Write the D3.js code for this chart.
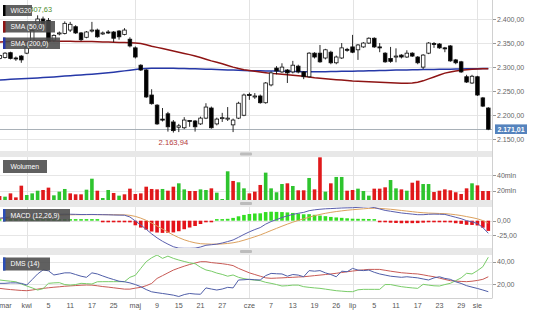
<!DOCTYPE html>
<html>
<head>
<meta charset="utf-8">
<script src="https://cdnjs.cloudflare.com/ajax/libs/d3/7.8.5/d3.min.js"></script>
<style>
    body { margin: 0; background: #fff; }
    text { font-family: "Liberation Sans", Arial, sans-serif; }
</style>
</head>
<body>
<script>
    var width = 536;
    var height = 314;
    var plotW = 492;

    // sesje GPW 25.03.2019 - 05.08.2019 (bez swiat)
    var holidays = ["2019-04-19", "2019-04-22", "2019-05-01", "2019-05-03", "2019-06-20"];
    var tickDates = ["2019-03-26", "2019-04-01", "2019-04-05", "2019-04-11", "2019-04-17", "2019-04-25",
        "2019-05-02", "2019-05-09", "2019-05-15", "2019-05-21", "2019-05-27", "2019-06-03", "2019-06-07",
        "2019-06-13", "2019-06-19", "2019-06-26", "2019-07-01", "2019-07-05", "2019-07-11", "2019-07-17",
        "2019-07-23", "2019-07-29", "2019-08-01"];
    var tickText = ["mar", "kwi", "5", "11", "17", "25", "maj", "9", "15", "21", "27", "cze", "7",
        "13", "19", "26", "lip", "5", "11", "17", "23", "29", "sie"];
    var monthStarts = ["kwi", "maj", "cze", "lip", "sie"];

    var open = [2318, 2320, 2330, 2319, 2323, 2329, 2350, 2380, 2400, 2397,
        2356, 2369, 2370, 2377, 2384, 2371, 2362, 2375, 2377, 2370,
        2373, 2373, 2375, 2368, 2358, 2340, 2304, 2294, 2242, 2221,
        2192, 2203, 2186, 2175, 2174, 2189, 2188, 2182, 2194, 2215,
        2182, 2193, 2193, 2180, 2194, 2200, 2243, 2240, 2240, 2226,
        2263, 2298, 2290, 2294, 2290, 2302, 2290, 2280, 2329, 2329,
        2319, 2331, 2309, 2319, 2337, 2342, 2336, 2342, 2350, 2360,
        2342, 2329, 2318, 2322, 2325, 2321, 2329, 2321, 2300, 2329,
        2349, 2348, 2340, 2344, 2315, 2311, 2280, 2267, 2280, 2236,
        2215];
    var high = [2327, 2331, 2332, 2322, 2325, 2344, 2379, 2407.63, 2405, 2402,
        2368, 2374, 2395, 2394, 2387, 2373, 2375, 2394, 2380, 2374,
        2377, 2375, 2377, 2381, 2362, 2343, 2306, 2296, 2254, 2223,
        2215, 2207, 2190, 2182, 2196, 2190, 2190, 2197, 2225, 2218,
        2195, 2205, 2217, 2193, 2228, 2245, 2247, 2246, 2243, 2269,
        2291, 2302, 2308, 2296, 2313, 2305, 2292, 2331, 2331, 2346,
        2338, 2334, 2324, 2350, 2340, 2367, 2348, 2352, 2362, 2362,
        2350, 2331, 2342, 2339, 2327, 2335, 2331, 2323, 2327, 2352,
        2352, 2350, 2342, 2346, 2317, 2313, 2284, 2284, 2282, 2238,
        2217];
    var low = [2315, 2318, 2316, 2313, 2309, 2327, 2348, 2376, 2388, 2350,
        2352, 2366, 2368, 2373, 2369, 2354, 2360, 2372, 2361, 2367,
        2369, 2352, 2357, 2366, 2341, 2318, 2292, 2236, 2222, 2180,
        2187, 2166, 2163.94, 2165, 2171, 2176, 2166, 2180, 2192, 2172,
        2179, 2186, 2188, 2165, 2192, 2198, 2232, 2234, 2224, 2224,
        2260, 2285, 2288, 2267, 2287, 2287, 2275, 2278, 2318, 2309,
        2316, 2306, 2306, 2317, 2332, 2329, 2315, 2340, 2348, 2340,
        2331, 2309, 2309, 2310, 2318, 2319, 2321, 2306, 2296, 2327,
        2340, 2338, 2331, 2311, 2306, 2288, 2267, 2265, 2240, 2217,
        2169];
    var close = [2324, 2329, 2318, 2317, 2315, 2342, 2376, 2400, 2391, 2353,
        2366, 2371, 2391, 2389, 2371, 2357, 2373, 2377, 2363, 2371,
        2372, 2360, 2363, 2377, 2344, 2321, 2294, 2238, 2224, 2182,
        2190, 2176, 2168, 2178, 2190, 2188, 2176, 2194, 2217, 2174,
        2192, 2195, 2194, 2190, 2225, 2242, 2241, 2240, 2226, 2267,
        2288, 2292, 2300, 2288, 2304, 2290, 2280, 2329, 2321, 2311,
        2336, 2309, 2321, 2340, 2336, 2331, 2346, 2350, 2360, 2342,
        2341, 2311, 2312, 2323, 2321, 2329, 2323, 2309, 2325, 2350,
        2348, 2340, 2339, 2313, 2309, 2290, 2269, 2281, 2242, 2219,
        2171.01];

    var sma50 = [2352, 2352.5, 2353, 2353, 2353, 2353.5, 2354, 2354.5, 2355, 2355,
        2354.5, 2354, 2354, 2354, 2353.5, 2353, 2353, 2353, 2352.5, 2352,
        2352, 2351.5, 2351, 2351, 2350.5, 2350, 2349, 2346.5, 2343.5, 2341,
        2338.5, 2336, 2333.5, 2331, 2328.5, 2326, 2323, 2320, 2316.5, 2313,
        2310, 2307, 2303.5, 2300, 2297, 2294.5, 2293, 2291.5, 2290, 2288.5,
        2287, 2286, 2285, 2284, 2283, 2282, 2281, 2279.5, 2278, 2277,
        2276, 2275, 2274, 2273, 2272, 2271, 2270.5, 2270, 2269.5, 2269,
        2268.5, 2268, 2267.5, 2267, 2266.5, 2266.5, 2267, 2268.5, 2271.5, 2275.5,
        2279.5, 2283.5, 2287.5, 2290, 2292, 2293.5, 2294.5, 2295.5, 2296, 2296.5,
        2296.5];
    var sma200 = [2273.3, 2274, 2274.6, 2275.2, 2275.8, 2276.4, 2277, 2277.6, 2278.2, 2278.9,
        2279.7, 2280.5, 2281.3, 2282.1, 2283, 2283.8, 2284.6, 2285.4, 2286.3, 2287.2,
        2288.3, 2289.5, 2290.8, 2292.2, 2293.6, 2295, 2296.5, 2297.3, 2297.6, 2297.6,
        2297.6, 2297.5, 2297.4, 2297.2, 2297, 2296.8, 2296.5, 2296.2, 2295.8, 2295.4,
        2295, 2294.6, 2294.2, 2293.8, 2293.4, 2293, 2292.7, 2292.4, 2292.2, 2292,
        2292, 2291.8, 2291.5, 2291.2, 2291, 2290.8, 2290.6, 2290.5, 2290.5, 2290.5,
        2290.6, 2290.8, 2291, 2291.2, 2291.3, 2291.5, 2291.7, 2292, 2292.3, 2292.6,
        2292.9, 2293.2, 2293.5, 2293.8, 2294, 2294.2, 2294.4, 2294.6, 2294.8, 2295,
        2295.2, 2295.4, 2295.6, 2295.8, 2296, 2296.2, 2296.4, 2296.6, 2296.8, 2296.9,
        2297.1];

    // wolumen w mln
    var volume = [13.2, 12.4, 16.6, 11.5, 26.4, 14.5, 16.6, 20.0, 20.9, 23.9,
        14.1, 18.8, 22.2, 16.6, 15.4, 15.4, 21.3, 35.3, 20.0, 10.7,
        20.9, 17.1, 13.7, 15.4, 22.6, 15.8, 16.6, 25.1, 22.2, 21.7,
        22.2, 20.0, 25.1, 29.4, 21.7, 19.6, 19.6, 21.7, 20.9, 23.0,
        17.5, 9.4, 44.7, 32.4, 30.7, 23.0, 16.6, 18.8, 27.3, 43.0,
        23.0, 18.0, 28.5, 29.4, 26.0, 20.5, 20.5, 36.2, 21.7, 62.5,
        18.8, 29.4, 37.5, 37.5, 20.0, 20.9, 22.6, 19.6, 13.7, 22.6,
        22.6, 24.3, 33.6, 23.0, 21.7, 20.0, 30.2, 32.8, 28.5, 28.5,
        18.3, 20.0, 21.7, 20.5, 18.0, 15.8, 23.0, 29.4, 26.8, 19.6,
        19.6];
    var volUp = [0, 1, 0, 0, 0, 1, 1, 1, 0, 0,
        1, 1, 1, 0, 0, 0, 1, 1, 0, 1,
        1, 0, 1, 0, 0, 0, 0, 0, 0, 0,
        1, 0, 0, 1, 1, 0, 0, 1, 1, 0,
        1, 1, 1, 0, 1, 1, 0, 0, 0, 1,
        1, 1, 1, 0, 1, 0, 0, 1, 0, 0,
        1, 0, 1, 1, 0, 0, 1, 1, 1, 0,
        0, 0, 1, 1, 0, 1, 0, 0, 1, 1,
        0, 0, 0, 0, 0, 0, 0, 1, 0, 0,
        0];

    var macd = [4.5, 5.5, 6.5, 7.3, 8.0, 8.8, 9.8, 10.6, 11.0, 11.0,
        11.1, 11.2, 11.4, 11.3, 11.1, 10.8, 10.8, 10.9, 10.7, 10.5,
        10.3, 10.0, 9.8, 9.6, 6.5, -0.5, -7.5, -15, -23, -30,
        -36, -41, -45.5, -48, -48.3, -48.3, -48, -46, -43, -42,
        -41, -39, -36.5, -33.7, -29, -24, -19.5, -15.5, -12, -6,
        -1.5, 2, 5.5, 8.5, 11, 13, 14.5, 17.5, 19, 20,
        20.8, 21.2, 21.7, 22.2, 22.5, 22.7, 23.3, 24, 24.5, 23,
        20.5, 18, 16.5, 15, 13.5, 12.5, 11.5, 10.5, 10.5, 11.2,
        11.5, 11.3, 11, 8.5, 6, 3.5, 0, -2, -5, -12,
        -22];
    var signal = [3.5, 3.9, 4.4, 5.0, 5.6, 6.2, 7.0, 7.7, 8.3, 8.9,
        9.3, 9.7, 10.0, 10.3, 10.5, 10.5, 10.6, 10.6, 10.6, 10.6,
        10.6, 10.4, 10.3, 10.2, 9.4, 7.5, 4.5, 0.6, -4.1, -9.3,
        -14.7, -19.9, -25, -29.6, -33.4, -36.4, -38.7, -40.2, -40.7, -41,
        -41, -40.6, -39.8, -38.6, -36.7, -34.1, -31.2, -28.1, -24.9, -21.1,
        -17.2, -13.4, -9.6, -6, -2.6, 0.5, 3.3, 6.1, 8.7, 11,
        12.9, 14.6, 16, 17.2, 18.3, 19.2, 20, 20.8, 21.5, 21.8,
        21.5, 20.8, 20, 19, 17.9, 16.8, 15.8, 14.7, 13.9, 13.3,
        13, 12.6, 12.3, 11.5, 10.4, 9, 7.2, 5.4, 3.3, 0.2,
        -4.2];

    var plusDI = [20.6, 20.6, 21, 21, 20.6, 19.1, 24, 29, 32.6, 31.8,
        28.1, 29, 30, 30, 28.5, 27, 26, 30, 29, 27.2,
        25.5, 24, 22.5, 22, 21, 19.5, 17.6, 15, 13, 12.2,
        11.5, 10.8, 10, 8.8, 10.5, 11.5, 11, 10.8, 16.5, 15.5,
        14.6, 15.5, 17, 16.5, 23.6, 23.8, 24.2, 23.8, 23.6, 27.5,
        29.5, 29.2, 29, 27, 28.5, 28, 26.5, 32, 31.5, 32,
        30, 28.5, 26.5, 31.5, 31, 34, 32.5, 32, 32.5, 30.5,
        29, 28, 27, 26.5, 26, 26.5, 26, 25.5, 24.5, 23.6,
        25.5, 26.5, 25, 24.2, 22, 20.5, 18.5, 17.2, 16, 14.6,
        13.1];
    var minusDI = [23.6, 23, 22.5, 22, 20, 18.2, 16.5, 14.6, 15.8, 20.6,
        21, 21.2, 19.5, 19, 19.5, 20.6, 20.3, 20, 22, 22.1,
        22.1, 22.1, 22.1, 22.1, 26, 27.8, 34, 40, 43.5, 46,
        43, 45, 43, 41.5, 40.2, 39, 38.2, 35, 32.6, 31.5,
        29.8, 28.6, 27, 28.1, 26, 24.8, 24, 23.5, 23, 21.5,
        20.6, 19.5, 18.2, 18.5, 19, 19, 17.6, 17, 16.5, 16.1,
        15.4, 14.7, 14, 13.6, 13.2, 13.1, 14.8, 15.2, 15.2, 15.2,
        15.2, 19.5, 19.5, 18.5, 17.6, 17, 16.5, 16.1, 19.7, 19,
        18.4, 18.2, 19.5, 20.6, 23, 25.5, 29.6, 29, 32, 35.5,
        44];
    var adx = [16.1, 15.5, 15, 14.6, 14.2, 14, 14.6, 15.4, 16.1, 16.6,
        17.1, 17.5, 18, 18.3, 18.6, 18.9, 19.1, 19, 18.4, 17.7,
        17.2, 16.6, 16, 15.4, 15.4, 16.3, 17, 18.5, 20.5, 25,
        27.5, 30, 32.5, 34.3, 36, 37.5, 38.8, 40, 40, 39.2,
        38.7, 38.2, 37.5, 36.5, 34, 32, 30, 28.5, 27, 25.5,
        25.1, 25.3, 25.5, 25.8, 26, 26.3, 26.5, 27, 27.5, 28,
        28.5, 29, 29.6, 30.3, 31, 31.6, 32.2, 32.7, 33.1, 33.1,
        33.1, 32.3, 31.5, 30.8, 30.1, 29.7, 29.3, 29, 28.2, 27.3,
        26.5, 25.3, 24.1, 23, 22.6, 22.3, 22.1, 22.5, 23.2, 24.2,
        26.5];

    var priceTicks = [2150, 2200, 2250, 2300, 2350, 2400];
    var volTicks = [20, 40];
    var macdTicks = [-25, 0];
    var dmsTicks = [20, 40];

    var pl = d3.formatLocale({ decimal: ",", thousands: ".", grouping: [3], currency: ["", ""], minus: "-" });
    var fmt2 = pl.format(",.2f");
    var isoFmt = d3.timeFormat("%Y-%m-%d");

    var days = d3.timeDay.range(new Date(2019, 2, 25), new Date(2019, 7, 6))
        .filter(d => d.getDay() % 6 != 0 && holidays.indexOf(isoFmt(d)) < 0)
        .map(isoFmt);
    var n = days.length;

    var x = d3.scaleLinear().domain([0, n - 1]).range([-0.4, 488.3]);
    var yP = d3.scaleLinear().domain([2150, 2400]).range([139.3, 19]);
    var yV = d3.scaleLinear().domain([20, 40]).range([190.7, 175]);
    var yM = d3.scaleLinear().domain([-25, 0]).range([235, 220.7]);
    var yD = d3.scaleLinear().domain([20, 40]).range([284, 261.7]);

    var panels = [
        { id: "main", top: 0, bottom: 151 },
        { id: "vol", top: 157, bottom: 200 },
        { id: "macd", top: 207, bottom: 248 },
        { id: "dms", top: 255, bottom: 298 }
    ];

    var svg = d3.select("body").append("svg")
        .attr("width", width)
        .attr("height", height);

    svg.append("rect").attr("width", width).attr("height", height).attr("fill", "#fff");

    var defs = svg.append("defs");
    panels.forEach(p => {
        defs.append("clipPath").attr("id", "clip-" + p.id)
            .append("rect").attr("x", 0).attr("y", p.top)
            .attr("width", plotW).attr("height", p.bottom - p.top);
    });

    // separators between panels
    for (var k = 0; k < panels.length - 1; k++) {
        var a = panels[k].bottom, b = panels[k + 1].top;
        svg.append("rect").attr("x", 0).attr("y", a).attr("width", plotW + 1).attr("height", b - a)
            .attr("fill", "#e8e8e8");
        svg.append("rect").attr("x", 240).attr("y", (a + b) / 2 - 1.5).attr("width", 12).attr("height", 3)
            .attr("rx", 1).attr("fill", "#bcbcbc");
    }

    // panel borders
    svg.append("line").attr("x1", plotW + 0.5).attr("x2", plotW + 0.5).attr("y1", 0).attr("y2", 298)
        .attr("stroke", "#d0d0d0");
    svg.append("line").attr("x1", 0).attr("x2", plotW + 0.5).attr("y1", 298.5).attr("y2", 298.5)
        .attr("stroke", "#d0d0d0");

    var monthIdx = tickText.map((t, i) => monthStarts.indexOf(t) >= 0 ? days.indexOf(tickDates[i]) : -1)
        .filter(i => i >= 0);

    function grid(p, scale, ticks) {
        var g = svg.append("g").attr("clip-path", "url(#clip-" + p.id + ")");
        g.selectAll(".hg").data(ticks).enter().append("line")
            .attr("x1", 0).attr("x2", plotW)
            .attr("y1", d => Math.round(scale(d)) + 0.5).attr("y2", d => Math.round(scale(d)) + 0.5)
            .attr("stroke", "#e6e6e6");
        g.selectAll(".vg").data(monthIdx).enter().append("line")
            .attr("x1", d => Math.round(x(d)) + 0.5).attr("x2", d => Math.round(x(d)) + 0.5)
            .attr("y1", p.top).attr("y2", p.bottom)
            .attr("stroke", "#e3e3e3");
    }

    function rightAxis(scale, ticks, label) {
        var g = svg.append("g");
        g.selectAll("line").data(ticks).enter().append("line")
            .attr("x1", plotW + 1).attr("x2", plotW + 4)
            .attr("y1", d => Math.round(scale(d)) + 0.5).attr("y2", d => Math.round(scale(d)) + 0.5)
            .attr("stroke", "#999");
        g.selectAll("text").data(ticks).enter().append("text")
            .attr("x", plotW + 5).attr("y", d => scale(d) + 2.5)
            .attr("font-size", 7).attr("fill", "#666")
            .text(label);
    }

    function line(g, values, scale, color, w) {
        g.append("path").datum(values)
            .attr("fill", "none").attr("stroke", color).attr("stroke-width", w)
            .attr("d", d3.line().x((d, i) => x(i)).y(d => scale(d)));
    }

    function labelBox(x0, y0, w, h, txt, stripe) {
        var g = svg.append("g");
        g.append("rect").attr("x", x0).attr("y", y0).attr("width", w).attr("height", h)
            .attr("fill", "#4a4a4a").attr("fill-opacity", 0.88);
        if (stripe) {
            g.append("rect").attr("x", x0).attr("y", y0).attr("width", 2.5).attr("height", h)
                .attr("fill", stripe);
        }
        g.append("text").attr("x", x0 + 7.5).attr("y", y0 + h / 2 + 2.4)
            .attr("font-size", 6.8).attr("fill", "#fff").text(txt);
    }

    // ---- main panel ----
    var pMain = panels[0];
    grid(pMain, yP, priceTicks);
    var gMain = svg.append("g").attr("clip-path", "url(#clip-main)");

    var lastY = Math.round(yP(close[n - 1])) + 0.5;
    gMain.append("line").attr("x1", 0).attr("x2", plotW).attr("y1", lastY).attr("y2", lastY)
        .attr("stroke", "#a9b1b8").attr("stroke-width", 1.2);

    line(gMain, sma200, yP, "#2638a8", 1.5);
    line(gMain, sma50, yP, "#8e1414", 1.5);

    var candle = gMain.selectAll(".candle").data(d3.range(n)).enter().append("g").attr("class", "candle");
    candle.append("line")
        .attr("x1", i => x(i)).attr("x2", i => x(i))
        .attr("y1", i => yP(high[i])).attr("y2", i => yP(low[i]))
        .attr("stroke", "#111").attr("stroke-width", 0.9);
    candle.append("rect")
        .attr("x", i => x(i) - 1.8).attr("width", 3.6)
        .attr("y", i => yP(Math.max(open[i], close[i])))
        .attr("height", i => Math.max(1, Math.abs(yP(open[i]) - yP(close[i]))))
        .attr("fill", i => close[i] >= open[i] ? "#fff" : "#000")
        .attr("stroke", "#111").attr("stroke-width", 0.8);

    var iMax = high.indexOf(d3.max(high));
    var iMin = low.indexOf(d3.min(low));
    gMain.append("text").attr("x", x(iMax)).attr("y", yP(high[iMax]) - 3.5)
        .attr("text-anchor", "middle").attr("font-size", 7.4).attr("fill", "#4c8c2c")
        .text(fmt2(high[iMax]));
    gMain.append("text").attr("x", x(iMin)).attr("y", yP(low[iMin]) + 12)
        .attr("text-anchor", "middle").attr("font-size", 7.6).attr("fill", "#b43a3a")
        .text(fmt2(low[iMin]));

    rightAxis(yP, priceTicks, d => fmt2(d));
    svg.append("rect").attr("x", 495).attr("y", yP(close[n - 1]) - 4.8).attr("width", 32).attr("height", 9.6)
        .attr("fill", "#5583bd");
    svg.append("text").attr("x", 511).attr("y", yP(close[n - 1]) + 2.6).attr("text-anchor", "middle")
        .attr("font-size", 7).attr("font-weight", "bold").attr("fill", "#fff")
        .text(fmt2(close[n - 1]));

    labelBox(3, 5, 29, 11, "WIG20", "#000");
    labelBox(3, 21, 52, 11.5, "SMA (50,0)", "#8e1414");
    labelBox(3, 37.5, 57, 11.5, "SMA (200,0)", "#2638a8");

    // ---- volume ----
    var pVol = panels[1];
    grid(pVol, yV, volTicks);
    var gVol = svg.append("g").attr("clip-path", "url(#clip-vol)");
    gVol.selectAll(".vb").data(d3.range(n)).enter().append("rect")
        .attr("x", i => x(i) - 1.8).attr("width", 3.6)
        .attr("y", i => yV(volume[i])).attr("height", i => pVol.bottom - yV(volume[i]))
        .attr("fill", i => volUp[i] ? "#2ec42e" : "#e0191b");
    rightAxis(yV, volTicks, d => d + "mln");
    labelBox(3, 160, 44, 13, "Wolumen", null);

    // ---- MACD ----
    var pMacd = panels[2];
    grid(pMacd, yM, macdTicks);
    var gMacd = svg.append("g").attr("clip-path", "url(#clip-macd)");
    var hist = macd.map((m, i) => m - signal[i]);
    gMacd.selectAll(".hb").data(d3.range(n)).enter().append("rect")
        .attr("x", i => x(i) - 1.8).attr("width", 3.6)
        .attr("y", i => hist[i] >= 0 ? Math.min(yM(hist[i]), yM(0) - 1.6) : yM(0))
        .attr("height", i => Math.max(1.6, Math.abs(yM(hist[i]) - yM(0))))
        .attr("fill", i => hist[i] >= 0 ? "#33dd22" : "#e4131a");
    line(gMacd, signal, yM, "#dca15e", 1);
    line(gMacd, macd, yM, "#5a5fae", 1);
    rightAxis(yM, macdTicks, d => fmt2(d));
    labelBox(3, 209, 67, 12.5, "MACD (12,26,9)", "#2b4fb8");

    // ---- DMS ----
    var pDms = panels[3];
    grid(pDms, yD, dmsTicks);
    var gDms = svg.append("g").attr("clip-path", "url(#clip-dms)");
    line(gDms, adx, yD, "#c85a55", 1);
    line(gDms, minusDI, yD, "#79cc68", 1);
    line(gDms, plusDI, yD, "#4f5ea8", 1);
    rightAxis(yD, dmsTicks, d => fmt2(d));
    labelBox(3, 257.5, 47, 13, "DMS (14)", "#2b4fb8");

    // ---- x axis ----
    svg.append("g").selectAll("text").data(tickDates).enter().append("text")
        .attr("x", d => Math.max(5.5, x(days.indexOf(d))))
        .attr("y", 308)
        .attr("text-anchor", "middle")
        .attr("font-size", 7.2).attr("fill", "#555")
        .text((d, i) => tickText[i]);
</script>
</body>
</html>
